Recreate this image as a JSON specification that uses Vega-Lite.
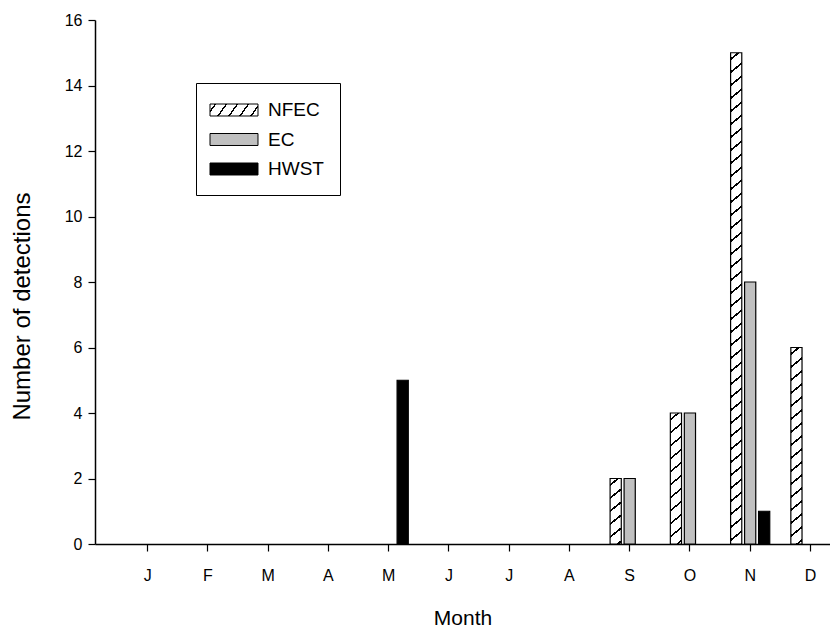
{
  "$schema": "https://vega.github.io/schema/vega-lite/v6.json",
  "width": 735,
  "height": 524,
  "autosize": {"type": "none"},
  "padding": {"left": 95, "top": 20, "right": 0, "bottom": 86},
  "background": "white",
  "config": {"font": "Liberation Sans", "view": {"stroke": null}},
  "params": [
    {
      "name": "hatch",
      "value": [
        {"offset":0,"color":"#fff"},
        {"offset":0.0105,"color":"#fff"},{"offset":0.0105,"color":"#000"},{"offset":0.0145,"color":"#000"},{"offset":0.0145,"color":"#fff"},
        {"offset":0.0355,"color":"#fff"},{"offset":0.0355,"color":"#000"},{"offset":0.0395,"color":"#000"},{"offset":0.0395,"color":"#fff"},
        {"offset":0.0605,"color":"#fff"},{"offset":0.0605,"color":"#000"},{"offset":0.0645,"color":"#000"},{"offset":0.0645,"color":"#fff"},
        {"offset":0.0855,"color":"#fff"},{"offset":0.0855,"color":"#000"},{"offset":0.0895,"color":"#000"},{"offset":0.0895,"color":"#fff"},
        {"offset":0.1105,"color":"#fff"},{"offset":0.1105,"color":"#000"},{"offset":0.1145,"color":"#000"},{"offset":0.1145,"color":"#fff"},
        {"offset":0.1355,"color":"#fff"},{"offset":0.1355,"color":"#000"},{"offset":0.1395,"color":"#000"},{"offset":0.1395,"color":"#fff"},
        {"offset":0.1605,"color":"#fff"},{"offset":0.1605,"color":"#000"},{"offset":0.1645,"color":"#000"},{"offset":0.1645,"color":"#fff"},
        {"offset":0.1855,"color":"#fff"},{"offset":0.1855,"color":"#000"},{"offset":0.1895,"color":"#000"},{"offset":0.1895,"color":"#fff"},
        {"offset":0.2105,"color":"#fff"},{"offset":0.2105,"color":"#000"},{"offset":0.2145,"color":"#000"},{"offset":0.2145,"color":"#fff"},
        {"offset":0.2355,"color":"#fff"},{"offset":0.2355,"color":"#000"},{"offset":0.2395,"color":"#000"},{"offset":0.2395,"color":"#fff"},
        {"offset":0.2605,"color":"#fff"},{"offset":0.2605,"color":"#000"},{"offset":0.2645,"color":"#000"},{"offset":0.2645,"color":"#fff"},
        {"offset":0.2855,"color":"#fff"},{"offset":0.2855,"color":"#000"},{"offset":0.2895,"color":"#000"},{"offset":0.2895,"color":"#fff"},
        {"offset":0.3105,"color":"#fff"},{"offset":0.3105,"color":"#000"},{"offset":0.3145,"color":"#000"},{"offset":0.3145,"color":"#fff"},
        {"offset":0.3355,"color":"#fff"},{"offset":0.3355,"color":"#000"},{"offset":0.3395,"color":"#000"},{"offset":0.3395,"color":"#fff"},
        {"offset":0.3605,"color":"#fff"},{"offset":0.3605,"color":"#000"},{"offset":0.3645,"color":"#000"},{"offset":0.3645,"color":"#fff"},
        {"offset":0.3855,"color":"#fff"},{"offset":0.3855,"color":"#000"},{"offset":0.3895,"color":"#000"},{"offset":0.3895,"color":"#fff"},
        {"offset":0.4105,"color":"#fff"},{"offset":0.4105,"color":"#000"},{"offset":0.4145,"color":"#000"},{"offset":0.4145,"color":"#fff"},
        {"offset":0.4355,"color":"#fff"},{"offset":0.4355,"color":"#000"},{"offset":0.4395,"color":"#000"},{"offset":0.4395,"color":"#fff"},
        {"offset":0.4605,"color":"#fff"},{"offset":0.4605,"color":"#000"},{"offset":0.4645,"color":"#000"},{"offset":0.4645,"color":"#fff"},
        {"offset":0.4855,"color":"#fff"},{"offset":0.4855,"color":"#000"},{"offset":0.4895,"color":"#000"},{"offset":0.4895,"color":"#fff"},
        {"offset":0.5105,"color":"#fff"},{"offset":0.5105,"color":"#000"},{"offset":0.5145,"color":"#000"},{"offset":0.5145,"color":"#fff"},
        {"offset":0.5355,"color":"#fff"},{"offset":0.5355,"color":"#000"},{"offset":0.5395,"color":"#000"},{"offset":0.5395,"color":"#fff"},
        {"offset":0.5605,"color":"#fff"},{"offset":0.5605,"color":"#000"},{"offset":0.5645,"color":"#000"},{"offset":0.5645,"color":"#fff"},
        {"offset":0.5855,"color":"#fff"},{"offset":0.5855,"color":"#000"},{"offset":0.5895,"color":"#000"},{"offset":0.5895,"color":"#fff"},
        {"offset":0.6105,"color":"#fff"},{"offset":0.6105,"color":"#000"},{"offset":0.6145,"color":"#000"},{"offset":0.6145,"color":"#fff"},
        {"offset":0.6355,"color":"#fff"},{"offset":0.6355,"color":"#000"},{"offset":0.6395,"color":"#000"},{"offset":0.6395,"color":"#fff"},
        {"offset":0.6605,"color":"#fff"},{"offset":0.6605,"color":"#000"},{"offset":0.6645,"color":"#000"},{"offset":0.6645,"color":"#fff"},
        {"offset":0.6855,"color":"#fff"},{"offset":0.6855,"color":"#000"},{"offset":0.6895,"color":"#000"},{"offset":0.6895,"color":"#fff"},
        {"offset":0.7105,"color":"#fff"},{"offset":0.7105,"color":"#000"},{"offset":0.7145,"color":"#000"},{"offset":0.7145,"color":"#fff"},
        {"offset":0.7355,"color":"#fff"},{"offset":0.7355,"color":"#000"},{"offset":0.7395,"color":"#000"},{"offset":0.7395,"color":"#fff"},
        {"offset":0.7605,"color":"#fff"},{"offset":0.7605,"color":"#000"},{"offset":0.7645,"color":"#000"},{"offset":0.7645,"color":"#fff"},
        {"offset":0.7855,"color":"#fff"},{"offset":0.7855,"color":"#000"},{"offset":0.7895,"color":"#000"},{"offset":0.7895,"color":"#fff"},
        {"offset":0.8105,"color":"#fff"},{"offset":0.8105,"color":"#000"},{"offset":0.8145,"color":"#000"},{"offset":0.8145,"color":"#fff"},
        {"offset":0.8355,"color":"#fff"},{"offset":0.8355,"color":"#000"},{"offset":0.8395,"color":"#000"},{"offset":0.8395,"color":"#fff"},
        {"offset":0.8605,"color":"#fff"},{"offset":0.8605,"color":"#000"},{"offset":0.8645,"color":"#000"},{"offset":0.8645,"color":"#fff"},
        {"offset":0.8855,"color":"#fff"},{"offset":0.8855,"color":"#000"},{"offset":0.8895,"color":"#000"},{"offset":0.8895,"color":"#fff"},
        {"offset":0.9105,"color":"#fff"},{"offset":0.9105,"color":"#000"},{"offset":0.9145,"color":"#000"},{"offset":0.9145,"color":"#fff"},
        {"offset":0.9355,"color":"#fff"},{"offset":0.9355,"color":"#000"},{"offset":0.9395,"color":"#000"},{"offset":0.9395,"color":"#fff"},
        {"offset":0.9605,"color":"#fff"},{"offset":0.9605,"color":"#000"},{"offset":0.9645,"color":"#000"},{"offset":0.9645,"color":"#fff"},
        {"offset":0.9855,"color":"#fff"},{"offset":0.9855,"color":"#000"},{"offset":0.9895,"color":"#000"},{"offset":0.9895,"color":"#fff"},
        {"offset":1,"color":"#fff"}
      ]
    }
  ],
  "data": {
    "values": [
      {"month": 5, "series": "HWST", "count": 5},
      {"month": 9, "series": "NFEC", "count": 2},
      {"month": 9, "series": "EC", "count": 2},
      {"month": 10, "series": "NFEC", "count": 4},
      {"month": 10, "series": "EC", "count": 4},
      {"month": 11, "series": "NFEC", "count": 15},
      {"month": 11, "series": "EC", "count": 8},
      {"month": 11, "series": "HWST", "count": 1},
      {"month": 12, "series": "NFEC", "count": 6}
    ]
  },
  "mark": {"type": "bar", "stroke": "black", "strokeWidth": 1.2},
  "encoding": {
    "x": {
      "field": "month",
      "type": "ordinal",
      "scale": {"domain": [1,2,3,4,5,6,7,8,9,10,11,12], "paddingInner": 0.35, "paddingOuter": 0.275, "align": 1},
      "axis": {
        "title": "Month",
        "labelExpr": "['J','F','M','A','M','J','J','A','S','O','N','D'][datum.value - 1]",
        "labelAngle": 0,
        "labelFontSize": 16,
        "labelColor": "black",
        "labelPadding": 16,
        "tickSize": 7,
        "tickColor": "black",
        "tickWidth": 1.2,
        "domainColor": "black",
        "domainWidth": 1.5,
        "titleFontSize": 21,
        "titleFontWeight": "normal",
        "titleColor": "black",
        "titlePadding": 24,
        "grid": false
      }
    },
    "xOffset": {
      "field": "series",
      "type": "nominal",
      "scale": {"domain": ["NFEC", "EC", "HWST"], "paddingInner": 0.2, "paddingOuter": 0}
    },
    "y": {
      "field": "count",
      "type": "quantitative",
      "stack": null,
      "scale": {"domain": [0, 16], "nice": false},
      "axis": {
        "title": "Number of detections",
        "values": [0, 2, 4, 6, 8, 10, 12, 14, 16],
        "labelFontSize": 16,
        "labelColor": "black",
        "labelPadding": 6,
        "tickSize": 7,
        "tickColor": "black",
        "tickWidth": 1.2,
        "domainColor": "black",
        "domainWidth": 1.5,
        "titleFontSize": 24,
        "titleFontWeight": "normal",
        "titleColor": "black",
        "titlePadding": 30,
        "titleY": 286,
        "grid": false
      }
    },
    "fill": {
      "field": "series",
      "type": "nominal",
      "scale": {
        "domain": ["NFEC", "EC", "HWST"],
        "range": [
          {"expr": "{gradient: 'linear', x1: 0, y1: 0, x2: 8.884, y2: 1.586, stops: hatch}"},
          "#c0c0c0",
          "black"
        ]
      },
      "condition": {
        "test": "datum.series === 'NFEC'",
        "value": {"expr": "{gradient: 'linear', x1: 0, y1: 0, x2: 0.8*bandwidth('xOffset')*520/(0.64*bandwidth('xOffset')*bandwidth('xOffset') + pow(scale('y',0)-scale('y',datum.count),2)), y2: (scale('y',0)-scale('y',datum.count))*520/(0.64*bandwidth('xOffset')*bandwidth('xOffset') + pow(scale('y',0)-scale('y',datum.count),2)), stops: hatch}"}
      },
      "legend": {
        "title": null,
        "orient": "none",
        "legendX": 101,
        "legendY": 63,
        "padding": 16,
        "strokeColor": "black",
        "symbolType": "M-1.238,-0.571H3.333V0.571H-1.238Z",
        "symbolSize": 441,
        "symbolStrokeColor": "black",
        "symbolStrokeWidth": 1,
        "symbolOpacity": 1,
        "labelFontSize": 19,
        "labelColor": "black",
        "labelOffset": 34,
        "labelLimit": 300,
        "rowPadding": 8.5
      }
    }
  }
}
